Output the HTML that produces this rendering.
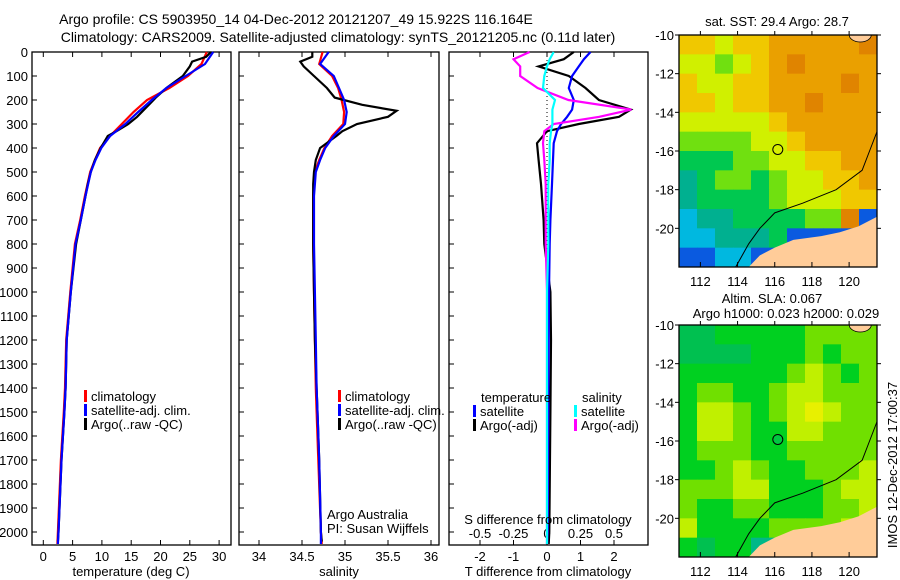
<!DOCTYPE html>
<html><head><meta charset="utf-8"><style>
body{margin:0;background:#fff}
svg{display:block;font-family:"Liberation Sans",sans-serif}
text{fill:#000}
</style></head><body>
<svg id="s" width="900" height="580" viewBox="0 0 900 580" xmlns="http://www.w3.org/2000/svg">
<defs>
<clipPath id="c1"><rect x="679" y="35" width="198" height="232"/></clipPath>
<clipPath id="c2"><rect x="679" y="325" width="198" height="232"/></clipPath>
</defs>
<text x="296" y="24" font-size="14" text-anchor="middle">Argo profile: CS 5903950_14 04-Dec-2012 20121207_49 15.922S 116.164E</text>
<text x="338" y="42" font-size="14" text-anchor="middle">Climatology: CARS2009. Satellite-adjusted climatology: synTS_20121205.nc (0.11d later)</text>
<g id="g"></g>
</svg>
<script>
// ---------- data ----------
const depthTicks=[0,100,200,300,400,500,600,700,800,900,1000,1100,1200,1300,1400,1500,1600,1700,1800,1900,2000];
const tempTicks=[0,5,10,15,20,25,30];
const salTicks=[34,34.5,35,35.5,36];
const tdTicks=[-2,-1,0,1,2];
const sdTicks=[-0.5,-0.25,0,0.25,0.5];
const sdTickLabels=["-0.5","-0.25","0","0.25","0.5"];
const lonTicks=[112,114,116,118,120];
const latTicks=[-10,-12,-14,-16,-18,-20];

const climDepth=[0,50,100,150,200,250,300,350,400,450,500,600,700,800,1000,1200,1400,1500,1700,2000,2050];
const climTemp=[27.9,27.0,24.7,21.5,17.7,15.4,13.4,11.4,9.7,8.8,8.0,7.1,6.3,5.4,4.6,3.9,3.7,3.5,3.0,2.5,2.4];
const satTemp=[29.0,27.6,24.3,21.0,18.5,16.2,14.0,11.4,9.9,8.9,8.1,7.2,6.4,5.5,4.7,4.0,3.8,3.6,3.1,2.6,2.5];
const climSal=[34.74,34.70,34.85,34.92,34.96,34.99,34.98,34.85,34.76,34.70,34.65,34.63,34.63,34.63,34.64,34.65,34.66,34.67,34.69,34.72,34.73];
const satSal=[34.81,34.71,34.87,34.93,34.99,35.02,35.0,34.87,34.77,34.71,34.66,34.64,34.64,34.64,34.65,34.66,34.67,34.68,34.70,34.72,34.72];

const argoDepth=[0,20,40,60,100,150,190,220,245,270,300,330,350,400,450,500,550,600,700,800,1000,1200,1400,1500,1700,2000,2040];
const argoTemp=[28.6,27.8,25.4,25.0,23.8,21.0,19.2,18.0,17.0,16.0,14.5,12.5,11.0,9.8,8.8,8.1,7.6,7.2,6.4,5.6,4.7,4.0,3.8,3.6,3.1,2.6,2.5];
const argoSal=[34.62,34.62,34.48,34.52,34.64,34.79,34.88,35.2,35.6,35.5,35.14,34.97,34.90,34.71,34.66,34.64,34.63,34.63,34.63,34.63,34.64,34.65,34.67,34.68,34.70,34.72,34.73];

const dDepth=[0,30,60,100,150,200,240,270,300,330,380,450,550,700,800,1000,1200,1500,2000,2050];
const dTsat=[1.3,1.1,0.95,0.75,0.65,0.8,0.75,0.6,0.42,0.3,0.2,0.18,0.15,0.1,0.08,0.06,0.05,0.04,0.02,0.0];
const dTargo=[0.8,0.5,-0.25,0.65,1.15,1.55,2.5,2.15,0.95,0.0,-0.3,-0.25,-0.18,-0.1,-0.08,0.1,0.12,0.1,0.07,0.05];
const dSargo=[-0.13,-0.25,-0.2,-0.2,-0.07,0.16,0.63,0.39,0.05,-0.02,-0.03,-0.02,-0.01,-0.01,-0.01,0.0,0.0,0.0,0.0,0.0];
const dSsat=[0.05,0.02,0.0,-0.02,-0.03,0.06,0.04,0.04,0.04,0.03,0.02,0.02,0.01,0.01,0.01,0.0,0.0,0.0,0.0,0.0];

const sstGrid=[
"66566777778","55456787777","65566777787","66566778777","55555677777","44445567777",
"33344556677","23443455667","23333455566","12233334480","11222300000","00110000000"];
const slaGrid=[
"22333334444","22223334344","33333345434","34433455444","35543456544","35543355444",
"34443344444","33454334445","44455333455","43344333445","53333444450","32330000000"];
const sstColors=["#0a5ae0","#00b8e0","#00b090","#00c850","#70e010","#d0f000","#f0c800","#eaa000","#e08400"];
const slaColors=["#00b888","#00b888","#00c050","#00d020","#70e000","#c0f000","#e8f000"];
const landLon=[114.6,115.2,116.0,117.0,118.5,119.5,120.5,121.5,121.5];
const landLat=[-22,-21.4,-21.0,-20.6,-20.4,-20.2,-19.9,-19.4,-22];
const coastLon=[113.9,114.6,115.2,116.0,117.5,119.3,120.7,121.1,121.5];
const coastLat=[-22,-20.8,-20.0,-19.2,-18.7,-18.0,-17.0,-16.0,-15.0];

// ---------- helpers ----------
const NS="http://www.w3.org/2000/svg",G=document.getElementById('g');
function mk(t,a,p){const e=document.createElementNS(NS,t);for(const k in a)e.setAttribute(k,a[k]);(p||G).appendChild(e);return e;}
const yD=d=>52+d*0.24;
const xT=t=>43.3+t*5.86;
const xS=s=>259+(s-34)*86;
const xTD=d=>547+d*33.5;
const xSD=d=>547+d*134;
const PB=545;

function frame(x0,x1,name){
  const r=mk('rect',{x:x0,y:52,width:x1-x0,height:PB-52,fill:'none',stroke:'#000','stroke-width':1.3});
  
  
  depthTicks.forEach(d=>{
    const l=mk('line',{x1:x0,x2:x0+5,y1:yD(d),y2:yD(d),stroke:'#000'});
    
    
  });
}
function xticks(vals,fx,labels,y,name){
  vals.forEach((v,i)=>{
    const x=fx(v);
    const a=mk('line',{x1:x,x2:x,y1:PB,y2:PB-5,stroke:'#000'});
    
    
    const b=mk('line',{x1:x,x2:x,y1:52,y2:57,stroke:'#000'});
    
    
    const t=mk('text',{x:x,y:y,'font-size':13,'text-anchor':'middle'});
    t.textContent=labels?labels[i]:String(v);
    
    
  });
}
function line(xs,ds,fx,col,name,w){
  const pts=xs.map((v,i)=>fx(v).toFixed(1)+','+yD(ds[i]).toFixed(1)).join(' ');
  const p=mk('polyline',{points:pts,fill:'none',stroke:col,'stroke-width':w||2.2});
  
  
}
function txt(x,y,s,name,sz,anc,par){
  const t=mk('text',{x:x,y:y,'font-size':sz||13,'text-anchor':anc||'start'},par);
  t.textContent=s;
  
  
  return t;
}
function legend(x,y,col,s,name){
  const r=mk('rect',{x:x,y:y-11,width:3,height:12,fill:col});
  
  
  txt(x+7,y,s,name);
}

depthTicks.forEach(d=>{
  const t=mk('text',{x:28,y:yD(d)+5,'font-size':13,'text-anchor':'end'});
  t.textContent=String(d);
  
  
});

// panel 1 temperature
frame(32,231,'temperature-panel');
xticks(tempTicks,xT,null,561,'temperature');
line(climTemp,climDepth,xT,'#f00','climatology-temperature-line');
line(argoTemp,argoDepth,xT,'#000','argo-temperature-line');
line(satTemp,climDepth,xT,'#00f','satellite-temperature-line');
txt(131,576,'temperature (deg C)','temperature-axis-title',13,'middle');
legend(84,401,'#f00','climatology','legend-climatology');
legend(84,415,'#00f','satellite-adj. clim.','legend-satellite');
legend(84,429,'#000','Argo(..raw -QC)','legend-argo');

// panel 2 salinity
frame(239,439,'salinity-panel');
xticks(salTicks,xS,null,561,'salinity');
line(climSal,climDepth,xS,'#f00','climatology-salinity-line');
line(argoSal,argoDepth,xS,'#000','argo-salinity-line');
line(satSal,climDepth,xS,'#00f','satellite-salinity-line');
txt(339,576,'salinity','salinity-axis-title',13,'middle');
legend(338,401,'#f00','climatology','legend-climatology-2');
legend(338,415,'#00f','satellite-adj. clim.','legend-satellite-2');
legend(338,429,'#000','Argo(..raw -QC)','legend-argo-2');
txt(327,519,'Argo Australia','credit-line-1');
txt(327,533,'PI: Susan Wijffels','credit-line-2');

// panel 3 differences
frame(449,648,'difference-panel');
xticks(tdTicks,xTD,null,561,'t-difference');
sdTicks.forEach((v,i)=>txt(xSD(v),538,sdTickLabels[i],'s-difference-tick-label',13,'middle'));
const z=mk('line',{x1:xTD(0),x2:xTD(0),y1:52,y2:PB,stroke:'#000','stroke-dasharray':'1,3'});


line(dTargo,dDepth,xTD,'#000','argo-t-difference-line');
line(dTsat,dDepth,xTD,'#00f','satellite-t-difference-line');
line(dSargo,dDepth,xSD,'#f0f','argo-s-difference-line');
line(dSsat,dDepth,xSD,'#0ff','satellite-s-difference-line');
txt(548,524,'S difference from climatology','s-difference-axis-title',13,'middle');
txt(548,576,'T difference from climatology','t-difference-axis-title',13,'middle');
txt(481,402,'temperature','legend-temperature-heading');
legend(473,416,'#00f','satellite','legend-t-satellite');
legend(473,430,'#000','Argo(-adj)','legend-t-argo');
txt(582,402,'salinity','legend-salinity-heading');
legend(574,416,'#0ff','satellite','legend-s-satellite');
legend(574,430,'#f0f','Argo(-adj)','legend-s-argo');

// maps
function map(top,grid,colors,name,dotCol,clip){
  const L=679,R=877,B=top+232;
  const xL=lon=>L+(lon-110.85)*(R-L)/10.65;
  const yL=lat=>top+(-10-lat)*(B-top)/12;
  const g=mk('g',{});
  
  
  const gc=mk('g',{'clip-path':'url(#'+clip+')'},g);
  
  
  grid.forEach((row,r)=>{
    for(let c=0;c<row.length;c++){
      const v=+row[c];
      const lon0=110.85+c*10.65/row.length, lon1=110.85+(c+1)*10.65/row.length;
      const cell=mk('rect',{x:xL(lon0),y:yL(-10-r),width:xL(lon1)-xL(lon0)+0.5,height:yL(-11-r)-yL(-10-r)+0.5,fill:colors[v]},gc);
      
      
    }
  });
  const land=mk('polygon',{points:landLon.map((v,i)=>xL(v)+','+yL(landLat[i])).join(' '),fill:'#ffcc99'},gc);
  
  
  const land2=mk('ellipse',{cx:xL(120.6),cy:yL(-10),rx:11,ry:7,fill:'#ffcc99',stroke:'#000','stroke-width':0.8},gc);
  
  
  const coast=mk('polyline',{points:coastLon.map((v,i)=>xL(v)+','+yL(coastLat[i])).join(' '),fill:'none',stroke:'#000','stroke-width':1},gc);
  
  
  const fr=mk('rect',{x:L,y:top,width:R-L,height:B-top,fill:'none',stroke:'#000','stroke-width':1.3},g);
  
  
  const dot=mk('circle',{cx:xL(116.164),cy:yL(-15.922),r:5,fill:dotCol,stroke:'#000','stroke-width':1},g);
  
  
  lonTicks.forEach(v=>{
    const t=mk('line',{x1:xL(v),x2:xL(v),y1:B,y2:B-5,stroke:'#000'},g);
    
    
    const t2=mk('line',{x1:xL(v),x2:xL(v),y1:top,y2:top-4,stroke:'#000'},g);
    
    
    txt(xL(v),B+19,String(v),'lon-tick-label',13,'middle',g);
  });
  latTicks.forEach(v=>{
    const t=mk('line',{x1:L,x2:L-4,y1:yL(v),y2:yL(v),stroke:'#000'},g);
    
    
    const t2=mk('line',{x1:R,x2:R+4,y1:yL(v),y2:yL(v),stroke:'#000'},g);
    
    
    txt(L-5,yL(v)+5,String(v),'lat-tick-label',13,'end',g);
  });
}
map(35,sstGrid,sstColors,'sst-map','#d8f000','c1');
txt(777,26,'sat. SST: 29.4 Argo: 28.7','sst-map-title',13,'middle');
map(325,slaGrid,slaColors,'sla-map','#00c840','c2');
txt(772,303,'Altim. SLA: 0.067','sla-map-title-1',13,'middle');
txt(786,318,'Argo h1000: 0.023 h2000: 0.029','sla-map-title-2',13,'middle');
const v=txt(0,0,'IMOS 12-Dec-2012 17:00:37','timestamp',13,'middle');
v.setAttribute('transform','translate(897,465) rotate(-90)');
</script>
</body></html>
